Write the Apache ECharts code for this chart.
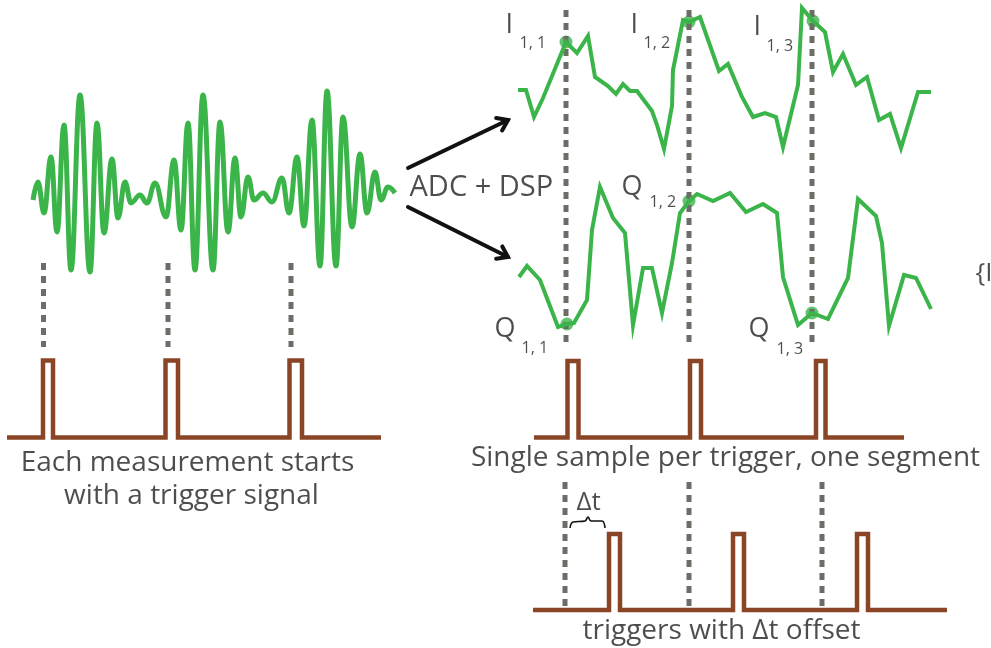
<!DOCTYPE html>
<html><head><meta charset="utf-8">
<script src="https://cdn.jsdelivr.net/npm/echarts@6/dist/echarts.min.js"></script>
<style>html,body{margin:0;padding:0;background:#fff}#c{width:991px;height:648px}</style>
</head><body><div id="c"></div><script>
// ---- data (diagram coordinates: x to the right, y downward) ----
const waveExtrema = [[33,200],[38,182],[44,213],[51,157],[57,232],[64,125],[71,270],[80,95],[90,272],[97,123],[104,233],[112,159],[118,218],[125,182],[131,203],[140,195],[147,203],[155,183],[166,217],[174,160],[181,230],[188,123],[195,270],[203,95],[213,270],[220,122],[228,232],[235,158],[241,217],[248,177],[254,200],[263,193],[272,202],[282,178],[289,213],[297,157],[304,226],[312,120],[320,266],[327,91],[336,266],[343,117],[352,227],[360,154],[367,213],[375,172],[381,200],[388,187],[395,193]];
const iSignal = [[518,90],[526,90],[534,117],[543,98],[566,42],[577,53],[588,36],[595,77],[608,86],[616,94],[623,84],[630,91],[637,91],[652,111],[657,125],[664,149],[672,106],[673,70],[683,20],[689,22],[700,17],[719,71],[728,64],[742,97],[753,117],[765,113],[776,117],[783,147],[798,85],[802,8],[813,21],[825,32],[833,72],[843,54],[856,85],[867,77],[879,120],[890,114],[901,148],[918,92],[931,92]];
const qSignal = [[519,277],[527,266],[540,280],[558,327],[567,324],[574,323],[587,300],[592,230],[600,187],[613,218],[625,233],[633,325],[643,268],[652,268],[662,313],[672,263],[680,213],[689,201],[697,194],[713,201],[730,193],[746,212],[763,204],[777,213],[783,277],[798,325],[812,313],[828,319],[848,278],[858,199],[876,216],[882,243],[889,326],[904,275],[916,278],[931,309]];
const iSamples = [[566,42],[689,22],[813,21]];
const qSamples = [[567,324],[689,201],[812,313]];
// dotted guide lines: [x, yTop, yBottom]
const guides = [[43.5,263,347],[168,263,347],[291,263,347],[566,10,347],[689,10,347],[812,10,347],[565,482,608],[689,482,608],[822,482,608]];
// trigger trains: [xStart, xEnd, yBase, yTop, pulses[[left,right],...]]
const triggersLeft = [7, 381, 437.5, 360.5, [[43,53],[165.5,178],[289.5,302]]];
const triggersMid = [534, 904, 437.5, 361, [[567.5,578.5],[690,701],[816,825.5]]];
const triggersBottom = [533, 947, 610, 534, [[609,620],[733,744],[857,868]]];
const arrows = [[[408,168],[508,120]],[[408,207],[508,257]]];
const brace = [[570,528],[573,522],[585,521],[588,517],[591,521],[602,521],[605,528]];
const captions = [['Each measurement starts',188,464],['with a trigger signal',192,497],['Single sample per trigger, one segment',726,459],['triggers with Δt offset',722,632]];
const leftTexts = [['ADC + DSP',410,188],['Δt',577,503],['{I',976,274]];
const bigLetters = [['I',506,26],['I',631,26],['I',754,28],['Q',622,188],['Q',495,330],['Q',749,330]];
const subscripts = [['1, 1',520,44],['1, 2',644,44],['1, 3',767,47],['1, 2',650,203],['1, 1',522,349],['1, 3',777,350]];

// ---- styles ----
const GREEN = '#3bb54a', BROWN = '#8a4526', GREY = '#6d6d68', INK = '#231f20';
const FONT = 'Open Sans';

function trainPoints(t){
  const [x0,x1,base,top,pulses] = t; const pts=[[x0,base]];
  pulses.forEach(([l,r])=>{pts.push([l,base],[l,top],[r,top],[r,base]);});
  pts.push([x1,base]); return pts;
}
function arrowHead(a){
  const [[x0,y0],[x1,y1]] = a; const L=Math.hypot(x1-x0,y1-y0);
  const bx=(x0-x1)/L, by=(y0-y1)/L, th=35*Math.PI/180, len=12;
  const r=(c,s)=>[x1+len*(bx*c-by*s), y1+len*(bx*s+by*c)];
  return [r(Math.cos(th),Math.sin(th)),[x1,y1],r(Math.cos(-th),Math.sin(-th))];
}
const lineS = (data, style, extra) => Object.assign({type:'line', data, symbol:'none', silent:true, clip:false, lineStyle:style}, extra||{});
const textS = (items, fs, align) => ({type:'scatter', silent:true, symbolSize:1, itemStyle:{color:'transparent'},
  data: items.map(([t,x,y])=>({value:[x,y], name:t})),
  label:{show:true, formatter:p=>p.name, position:[0,0], align, verticalAlign:'middle', fontFamily:FONT, fontSize:fs, color:INK}});

const series = [];
guides.forEach(([x,a,b])=>series.push(lineS([[x,a],[x,b]],{color:GREY,width:5,type:[7,6]})));
series.push(lineS(waveExtrema,{color:GREEN,width:5},{smooth:0.42,smoothMonotone:'x'}));
series.push(lineS(iSignal,{color:GREEN,width:4,join:'miter',miterLimit:10}));
series.push(lineS(qSignal,{color:GREEN,width:4,join:'miter',miterLimit:10}));
series.push({type:'scatter',silent:true,symbolSize:13,itemStyle:{color:GREEN},data:iSamples.concat(qSamples)});
[triggersLeft,triggersMid,triggersBottom].forEach(t=>series.push(lineS(trainPoints(t),{color:BROWN,width:4.5,join:'miter'})));
arrows.forEach(a=>{series.push(lineS(a,{color:'#111',width:4,cap:'round'}));series.push(lineS(arrowHead(a),{color:'#111',width:4,cap:'round',join:'miter'}));});
series.push(lineS(brace,{color:'#111',width:1.6},{smooth:0.4}));
series.push(textS(captions,28,'center'));
series.push(textS(leftTexts.slice(0,1),29,'left'));
series.push(textS(leftTexts.slice(1),26,'left'));
series.push(textS(bigLetters,27,'left'));
series.push(textS(subscripts,16,'left'));

const chart = echarts.init(document.getElementById('c'));
chart.setOption({
  animation:false,
  grid:{left:0,right:0,top:0,bottom:0},
  xAxis:{type:'value',min:0,max:991,show:false},
  yAxis:{type:'value',min:0,max:648,inverse:true,show:false},
  series
});
</script></body></html>
